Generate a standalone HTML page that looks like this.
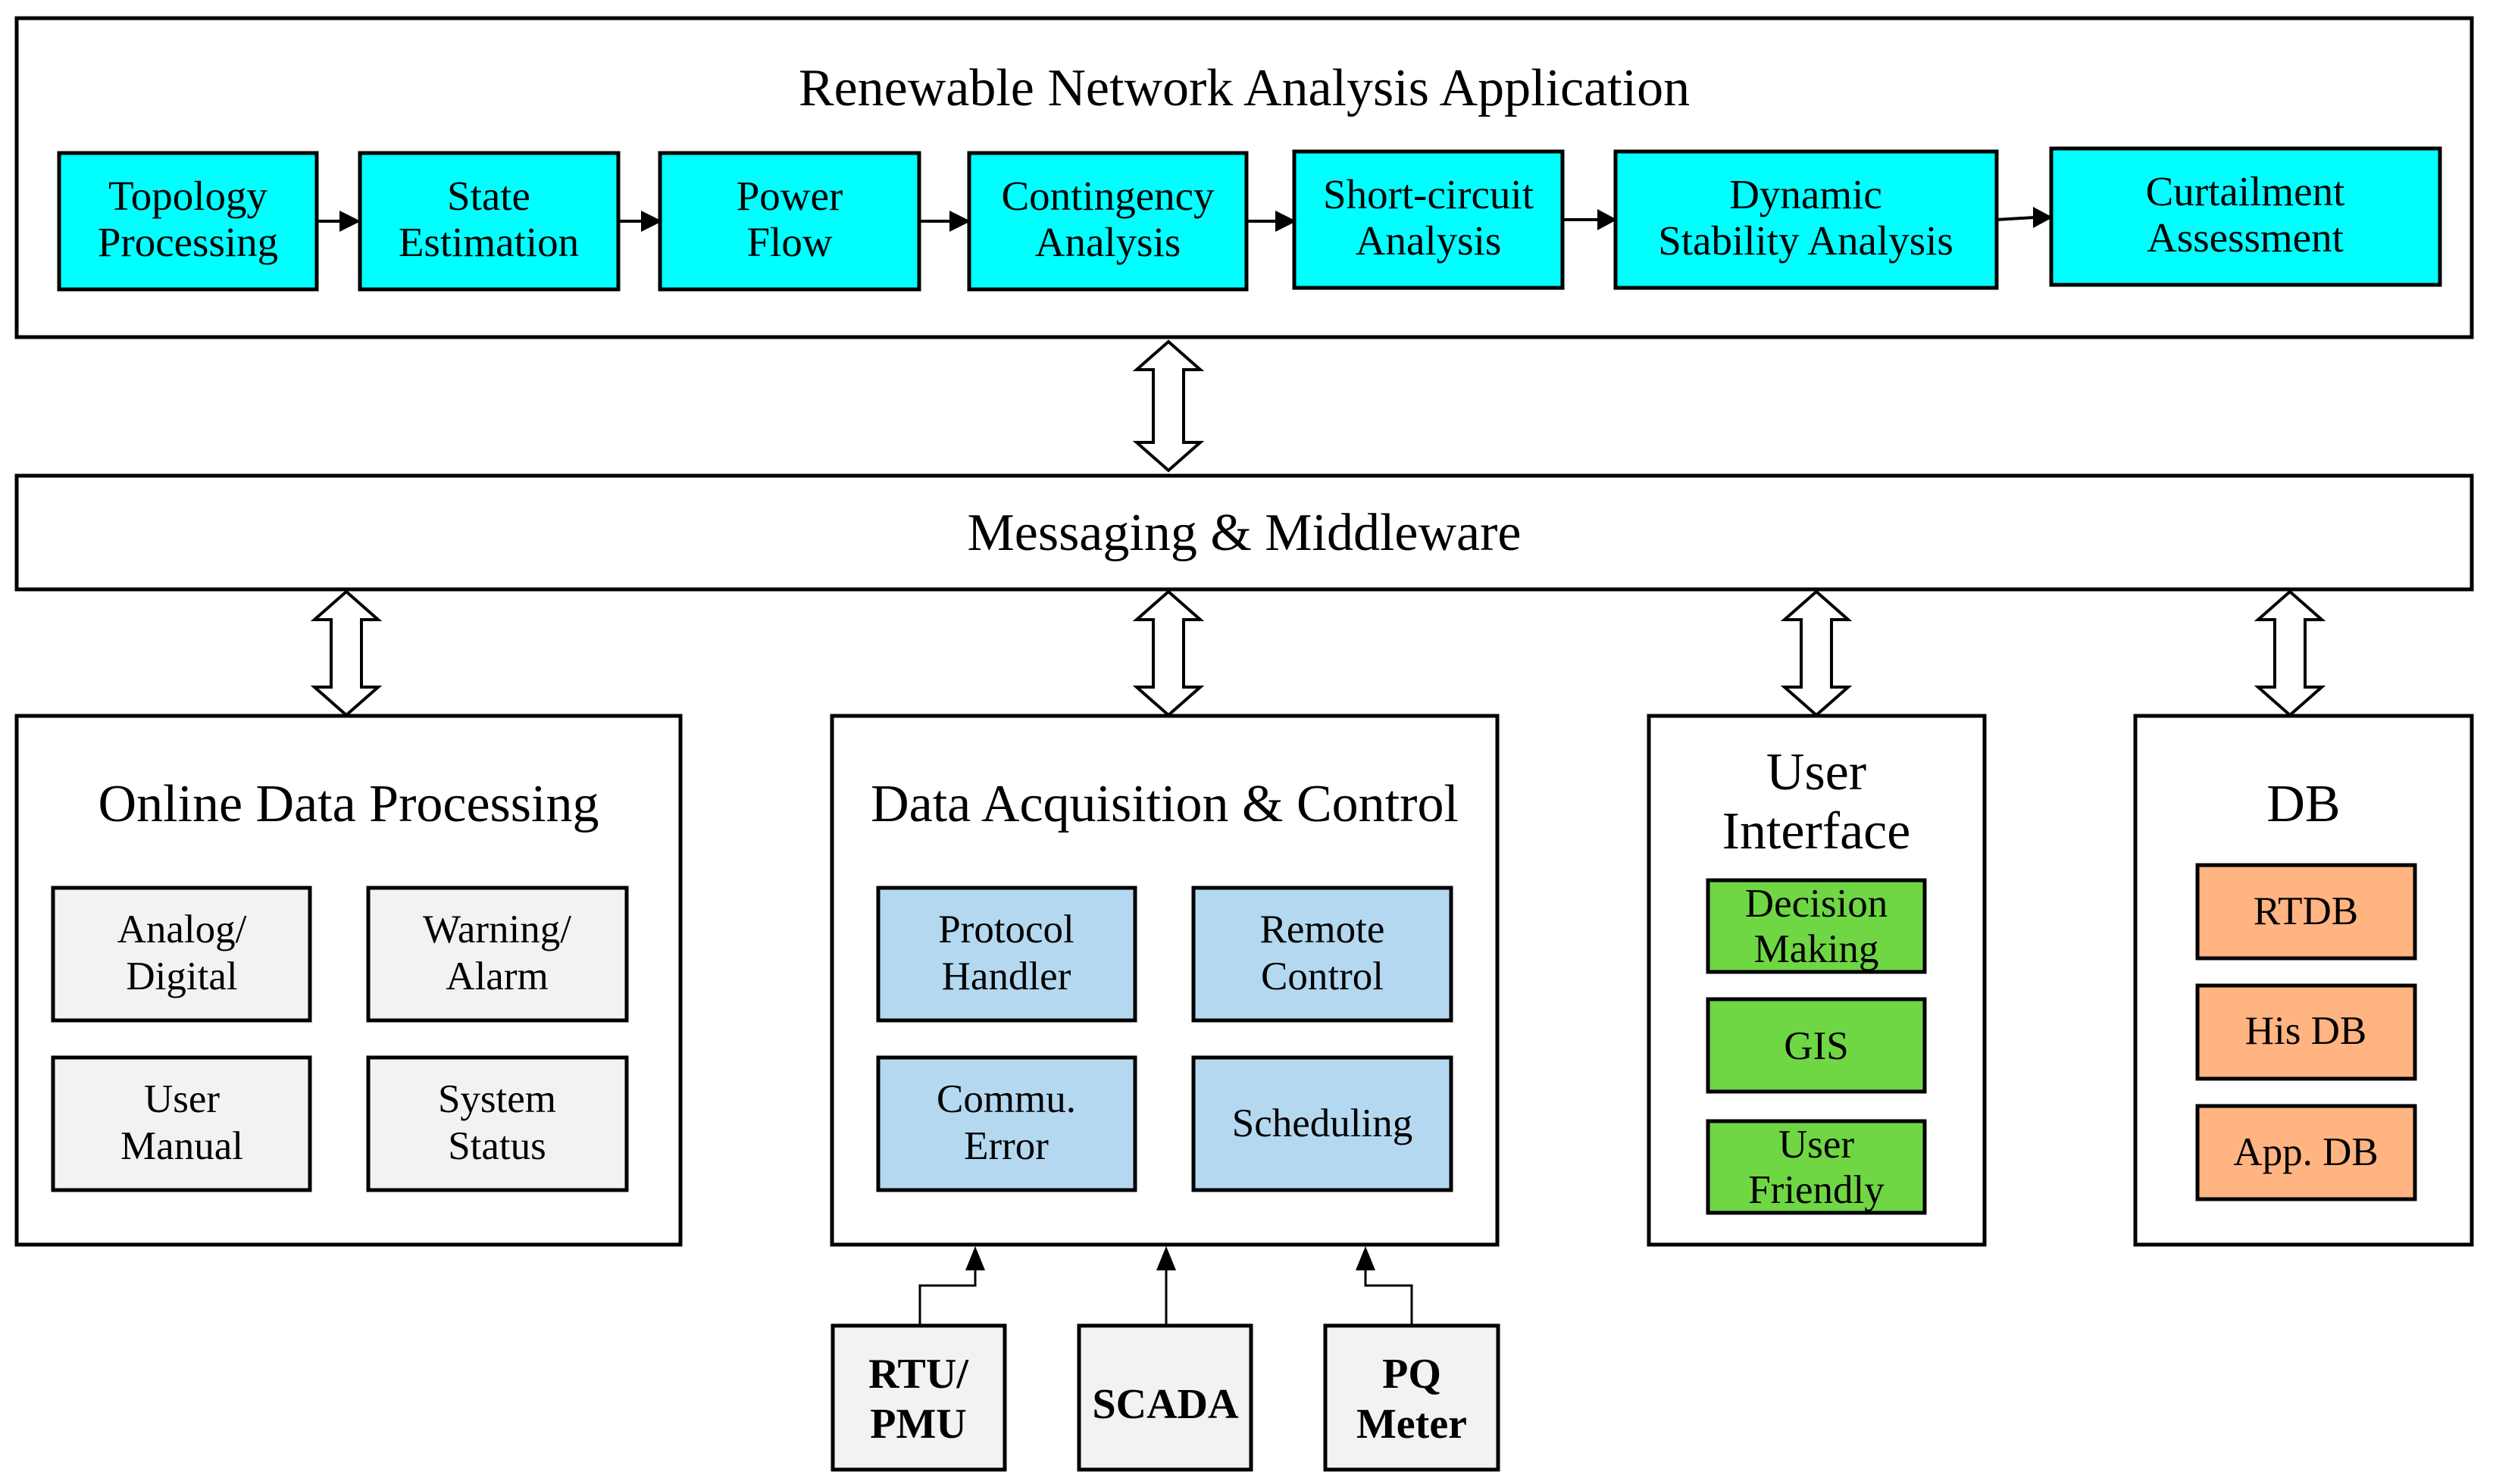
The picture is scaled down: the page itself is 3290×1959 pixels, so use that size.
<!DOCTYPE html>
<html><head><meta charset="utf-8"><style>
html,body{margin:0;padding:0;background:#fff;}
svg{display:block;}
text{font-family:"Liberation Serif",serif;fill:#000;}
</style></head><body>
<svg width="3290" height="1959" viewBox="0 0 3290 1959" xmlns="http://www.w3.org/2000/svg">
<g stroke="#000" stroke-width="5" fill="none">
<rect x="22" y="24" width="3240" height="421" fill="#fff"/>
<rect x="22" y="628" width="3240" height="150" fill="#fff"/>
<rect x="22" y="945" width="876" height="698" fill="#fff"/>
<rect x="1098" y="945" width="878" height="698" fill="#fff"/>
<rect x="2176" y="945" width="443" height="698" fill="#fff"/>
<rect x="2818" y="945" width="444" height="698" fill="#fff"/>
</g>
<g stroke="#000" stroke-width="5" fill="#00ffff">
<rect x="78" y="202" width="340" height="180"/>
<rect x="475" y="202" width="341" height="180"/>
<rect x="871" y="202" width="342" height="180"/>
<rect x="1279" y="202" width="366" height="180"/>
<rect x="1708" y="200" width="354" height="180"/>
<rect x="2132" y="200" width="503" height="180"/>
<rect x="2707" y="196" width="513" height="180"/>
</g>
<g stroke="#000" stroke-width="4">
<line x1="418" y1="292" x2="450" y2="292"/>
<line x1="816" y1="292" x2="848" y2="292"/>
<line x1="1213" y1="292" x2="1255" y2="292"/>
<line x1="1645" y1="292" x2="1685" y2="292"/>
<line x1="2062" y1="290" x2="2110" y2="290"/>
<line x1="2635" y1="290" x2="2685" y2="287"/>
</g>
<g fill="#000">
<polygon points="448,278 476,292 448,306"/>
<polygon points="846,278 874,292 846,306"/>
<polygon points="1253,278 1281,292 1253,306"/>
<polygon points="1683,278 1711,292 1683,306"/>
<polygon points="2108,276 2134,290 2108,304"/>
<polygon points="2683,273 2709,287 2683,301"/>
</g>
<g font-size="55" text-anchor="middle">
<text x="248" y="277">Topology</text><text x="248" y="338">Processing</text>
<text x="645" y="277">State</text><text x="645" y="338">Estimation</text>
<text x="1042" y="277">Power</text><text x="1042" y="338">Flow</text>
<text x="1462" y="277">Contingency</text><text x="1462" y="338">Analysis</text>
<text x="1885" y="275">Short-circuit</text><text x="1885" y="336">Analysis</text>
<text x="2383" y="275">Dynamic</text><text x="2383" y="336">Stability Analysis</text>
<text x="2963" y="271">Curtailment</text><text x="2963" y="332">Assessment</text>
</g>
<g font-size="70" text-anchor="middle">
<text x="1642" y="139">Renewable Network Analysis Application</text>
<text x="1642" y="726">Messaging &amp; Middleware</text>
<text x="460" y="1084">Online Data Processing</text>
<text x="1537" y="1084">Data Acquisition &amp; Control</text>
<text x="2397" y="1042">User</text>
<text x="2397" y="1120">Interface</text>
<text x="3040" y="1084">DB</text>
</g>
<g stroke="#000" stroke-width="4" fill="#fff">
<path d="M1542,451 L1584,488 L1562,488 L1562,584 L1584,584 L1542,621 L1500,584 L1522,584 L1522,488 L1500,488 Z"/>
<path d="M457,781 L499,818 L477,818 L477,907 L499,907 L457,944 L415,907 L437,907 L437,818 L415,818 Z"/>
<path d="M1542,781 L1584,818 L1562,818 L1562,907 L1584,907 L1542,944 L1500,907 L1522,907 L1522,818 L1500,818 Z"/>
<path d="M2397,781 L2439,818 L2417,818 L2417,907 L2439,907 L2397,944 L2355,907 L2377,907 L2377,818 L2355,818 Z"/>
<path d="M3022,781 L3064,818 L3042,818 L3042,907 L3064,907 L3022,944 L2980,907 L3002,907 L3002,818 L2980,818 Z"/>
</g>
<g stroke="#000" stroke-width="5" fill="#f2f2f2">
<rect x="70" y="1172" width="339" height="175"/>
<rect x="486" y="1172" width="341" height="175"/>
<rect x="70" y="1396" width="339" height="175"/>
<rect x="486" y="1396" width="341" height="175"/>
</g>
<g stroke="#000" stroke-width="5" fill="#b4d8f0">
<rect x="1159" y="1172" width="339" height="175"/>
<rect x="1575" y="1172" width="340" height="175"/>
<rect x="1159" y="1396" width="339" height="175"/>
<rect x="1575" y="1396" width="340" height="175"/>
</g>
<g stroke="#000" stroke-width="5" fill="#6fd644">
<rect x="2254" y="1162" width="286" height="121"/>
<rect x="2254" y="1319" width="286" height="122"/>
<rect x="2254" y="1480" width="286" height="121"/>
</g>
<g stroke="#000" stroke-width="5" fill="#ffb482">
<rect x="2900" y="1142" width="287" height="123"/>
<rect x="2900" y="1301" width="287" height="123"/>
<rect x="2900" y="1460" width="287" height="123"/>
</g>
<g font-size="53" text-anchor="middle">
<text x="240" y="1244">Analog/</text><text x="240" y="1306">Digital</text>
<text x="656" y="1244">Warning/</text><text x="656" y="1306">Alarm</text>
<text x="240" y="1468">User</text><text x="240" y="1530">Manual</text>
<text x="656" y="1468">System</text><text x="656" y="1530">Status</text>
<text x="1328" y="1244">Protocol</text><text x="1328" y="1306">Handler</text>
<text x="1745" y="1244">Remote</text><text x="1745" y="1306">Control</text>
<text x="1328" y="1468">Commu.</text><text x="1328" y="1530">Error</text>
<text x="1745" y="1500">Scheduling</text>
<text x="2397" y="1210">Decision</text><text x="2397" y="1270">Making</text>
<text x="2397" y="1398">GIS</text>
<text x="2397" y="1528">User</text><text x="2397" y="1588">Friendly</text>
<text x="3043" y="1220">RTDB</text>
<text x="3043" y="1378">His DB</text>
<text x="3043" y="1538">App. DB</text>
</g>
<g stroke="#000" stroke-width="5" fill="#f2f2f2">
<rect x="1099" y="1750" width="227" height="190"/>
<rect x="1424" y="1750" width="227" height="190"/>
<rect x="1749" y="1750" width="228" height="190"/>
</g>
<g stroke="#000" stroke-width="3" fill="none">
<polyline points="1214,1750 1214,1697 1287,1697 1287,1675"/>
<line x1="1539" y1="1750" x2="1539" y2="1675"/>
<polyline points="1863,1750 1863,1697 1802,1697 1802,1675"/>
</g>
<g fill="#000">
<polygon points="1287,1645 1274,1677 1300,1677"/>
<polygon points="1539,1645 1526,1677 1552,1677"/>
<polygon points="1802,1645 1789,1677 1815,1677"/>
</g>
<g font-size="56" font-weight="bold" text-anchor="middle">
<text x="1212" y="1832">RTU/</text><text x="1212" y="1898">PMU</text>
<text x="1538" y="1872">SCADA</text>
<text x="1863" y="1832">PQ</text><text x="1863" y="1898">Meter</text>
</g>
</svg>
</body></html>
